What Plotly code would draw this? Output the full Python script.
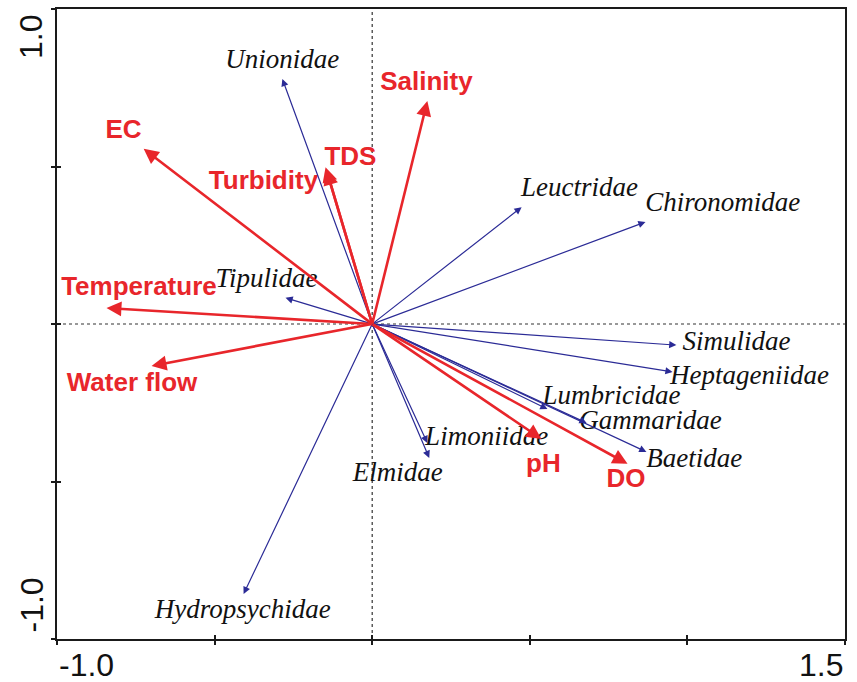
import plotly.graph_objects as go

# ---- data (biplot scores) ----
env_names = ["EC", "Turbidity", "TDS", "Salinity", "Temperature", "Water flow", "pH", "DO"]
env_x = [-0.725, -0.145, -0.148, 0.175, -0.843, -0.700, 0.537, 0.810]
env_y = [0.556, 0.489, 0.498, 0.708, 0.051, -0.133, -0.365, -0.444]
env_label_x = [-0.789, -0.345, -0.069, 0.172, -0.740, -0.762, 0.543, 0.805]
env_label_y = [0.612, 0.450, 0.527, 0.762, 0.114, -0.192, -0.449, -0.497]

sp_names = ["Unionidae", "Leuctridae", "Chironomidae", "Tipulidae", "Simulidae",
            "Heptageniidae", "Lumbricidae", "Gammaridae", "Baetidae", "Limoniidae",
            "Elmidae", "Hydropsychidae"]
sp_x = [-0.285, 0.474, 0.867, -0.275, 0.965, 0.953, 0.556, 0.680, 0.870, 0.175, 0.181, -0.408]
sp_y = [0.778, 0.371, 0.324, 0.083, -0.067, -0.152, -0.270, -0.314, -0.406, -0.378, -0.425, -0.857]
sp_label_x = [-0.285, 0.658, 1.112, -0.335, 1.156, 1.197, 0.759, 0.883, 1.022, 0.363, 0.081, -0.411]
sp_label_y = [0.835, 0.429, 0.381, 0.140, -0.060, -0.168, -0.232, -0.311, -0.432, -0.362, -0.476, -0.911]

x_range = [-1.0, 1.5]
y_range = [-1.0, 1.0]
x_tick_labels = ["-1.0", "1.5"]
y_tick_labels = ["1.0", "-1.0"]

RED = "#E8262B"
BLUE = "#2B2B96"

fig = go.Figure()

annotations = []
for x, y in zip(sp_x, sp_y):
    annotations.append(dict(x=x, y=y, ax=0, ay=0, xref="x", yref="y", axref="x", ayref="y",
                            text="", showarrow=True, arrowhead=2, arrowsize=1.2,
                            arrowwidth=1.2, arrowcolor=BLUE, standoff=0, borderpad=0))
for x, y in zip(env_x, env_y):
    annotations.append(dict(x=x, y=y, ax=0, ay=0, xref="x", yref="y", axref="x", ayref="y",
                            text="", showarrow=True, arrowhead=2, arrowsize=1.15,
                            arrowwidth=2.6, arrowcolor=RED, standoff=0, borderpad=0))

fig.add_trace(go.Scatter(
    x=sp_label_x, y=sp_label_y, text=sp_names, mode="text",
    textposition="middle center", cliponaxis=False, hoverinfo="skip",
    textfont=dict(family="Liberation Serif", size=27, color="#111111", style="italic"),
    showlegend=False))
fig.add_trace(go.Scatter(
    x=env_label_x, y=env_label_y, text=env_names, mode="text",
    textposition="middle center", cliponaxis=False, hoverinfo="skip",
    textfont=dict(family="Liberation Sans", size=26, color=RED, weight="bold"),
    showlegend=False))
# dummy trace for overlay axes (inner tick marks)
fig.add_trace(go.Scatter(x=[None], y=[None], xaxis="x2", yaxis="y2", showlegend=False))

# reference dotted lines through origin
fig.add_hline(y=0, line=dict(color="#333333", width=1.2, dash="dot"), layer="below")
fig.add_vline(x=0, line=dict(color="#333333", width=1.2, dash="dot"), layer="below")

tickfont = dict(family="Liberation Sans", size=32, color="#111111")
annotations += [
    dict(x=0, y=0, xref="paper", yref="paper", text=x_tick_labels[0], showarrow=False,
         xanchor="left", yanchor="top", yshift=-6, font=tickfont),
    dict(x=1, y=0, xref="paper", yref="paper", text=x_tick_labels[1], showarrow=False,
         xanchor="right", yanchor="top", yshift=-6, font=tickfont),
    dict(x=0, y=1, xref="paper", yref="paper", text=y_tick_labels[0], showarrow=False,
         textangle=-90, xanchor="right", yanchor="top", xshift=-6, yshift=-4, font=tickfont),
    dict(x=0, y=0, xref="paper", yref="paper", text=y_tick_labels[1], showarrow=False,
         textangle=-90, xanchor="right", yanchor="bottom", xshift=-6, yshift=4, font=tickfont),
]

axis_common = dict(showgrid=False, zeroline=False, showticklabels=False,
                   dtick=0.5, tick0=0, tickcolor="#1a1a1a", tickwidth=1.5, ticklen=4)

fig.update_layout(
    width=857, height=682,
    margin=dict(l=57, r=12, t=9, b=43, autoexpand=False),
    plot_bgcolor="white", paper_bgcolor="white",
    xaxis=dict(range=x_range, showline=True, mirror=True, linewidth=2, linecolor="#1a1a1a",
               ticks="outside", **axis_common),
    yaxis=dict(range=y_range, showline=True, mirror=True, linewidth=2, linecolor="#1a1a1a",
               ticks="outside", **axis_common),
    xaxis2=dict(range=x_range, overlaying="x", anchor="y2", side="bottom", showline=False,
                ticks="inside", **axis_common),
    yaxis2=dict(range=y_range, overlaying="y", anchor="x2", side="left", showline=False,
                ticks="inside", **axis_common),
    annotations=annotations,
    showlegend=False,
)

fig.write_html("out.html", config={"displayModeBar": False},
               post_script="document.body.style.margin='0';document.body.style.overflow='hidden';")
